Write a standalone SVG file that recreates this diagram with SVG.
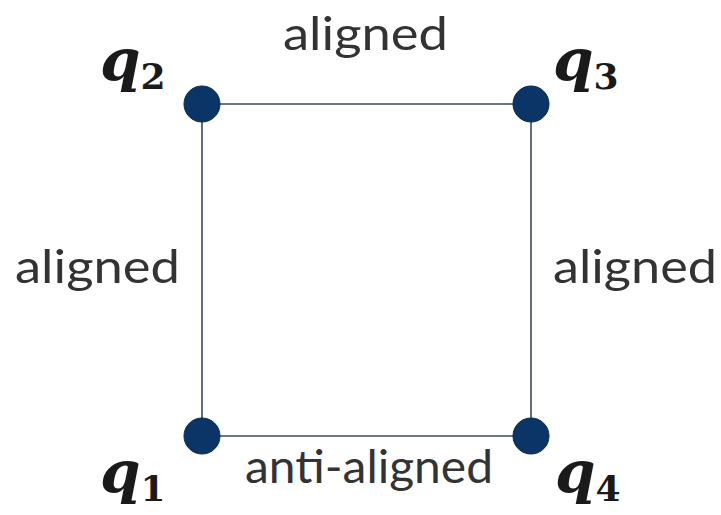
<svg xmlns="http://www.w3.org/2000/svg" width="721" height="515" viewBox="0 0 721 515">
<style>
.edge{stroke:#3a4a5a;stroke-width:1.6;fill:none}
.node{fill:#0b3566;stroke:#0a2a50;stroke-width:1}
.lbl{font-family:Lato,"Open Sans",sans-serif;font-size:47px;fill:#333333}
.q{font-family:"DejaVu Serif","Liberation Serif",serif;font-weight:bold;font-style:italic;font-size:58px;fill:#1a1a1a}
.sub{font-family:"DejaVu Serif","Liberation Serif",serif;font-weight:bold;font-size:36px;fill:#1a1a1a}
</style>
<rect width="721" height="515" fill="#ffffff"/>
<g id="connectors">
<line class="edge" x1="202" y1="104" x2="531" y2="104"/>
<line class="edge" x1="202" y1="104" x2="202" y2="436"/>
<line class="edge" x1="531" y1="104" x2="531" y2="436"/>
<line class="edge" x1="202" y1="436" x2="531" y2="436"/>
</g>
<g id="edge-labels">
<text class="lbl" x="283" y="50" textLength="165" lengthAdjust="spacingAndGlyphs">aligned</text>
<text class="lbl" x="15" y="283" textLength="165" lengthAdjust="spacingAndGlyphs">aligned</text>
<text class="lbl" x="553" y="283" textLength="164" lengthAdjust="spacingAndGlyphs">aligned</text>
<text class="lbl" x="245" y="483" textLength="248" lengthAdjust="spacingAndGlyphs">anti-aligned</text>
</g>
<g id="q2"><circle class="node" cx="202" cy="104" r="18"/><text x="100" y="80"><tspan class="q">q</tspan><tspan class="sub" dy="9">2</tspan></text></g>
<g id="q3"><circle class="node" cx="531" cy="104" r="18"/><text x="553" y="80"><tspan class="q">q</tspan><tspan class="sub" dy="9">3</tspan></text></g>
<g id="q1"><circle class="node" cx="202" cy="436" r="18"/><text x="100" y="492"><tspan class="q">q</tspan><tspan class="sub" dy="9">1</tspan></text></g>
<g id="q4"><circle class="node" cx="531" cy="436" r="18"/><text x="555" y="492"><tspan class="q">q</tspan><tspan class="sub" dy="9">4</tspan></text></g>
</svg>
